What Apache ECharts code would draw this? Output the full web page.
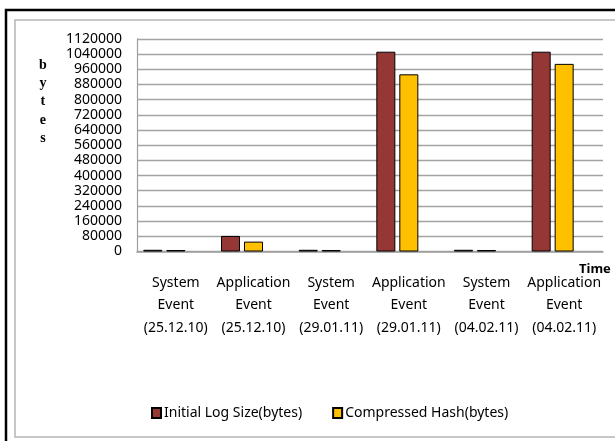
<!DOCTYPE html>
<html style="height: 100%">
<head>
    <meta charset="utf-8">
    <script src="https://cdn.jsdelivr.net/npm/echarts@6.0.0/dist/echarts.min.js"></script>
</head>
<body style="height: 100%; margin: 0; background: #fff">
    <div id="container" style="width: 615px; height: 441px"></div>
    <script type="text/javascript">
        var myChart = echarts.init(document.getElementById('container'));

        // colours
        const logColor = '#953735', hashColor = '#ffc000';
        const fontName = 'Noto Sans';

        // data
        var categories = [
            'System\nEvent\n(25.12.10)', 'Application\nEvent\n(25.12.10)',
            'System\nEvent\n(29.01.11)', 'Application\nEvent\n(29.01.11)',
            'System\nEvent\n(04.02.11)', 'Application\nEvent\n(04.02.11)'
        ];
        var initialLogSize = [9000, 82000, 9000, 1052000, 9000, 1052000];
        var compressedHash = [8000, 52000, 8000, 933000, 8000, 988000];
        var seriesNames = ['Initial Log Size(bytes)', 'Compressed Hash(bytes)'];

        option = {
            animation: false,
            graphic: [
                // outer frame and inner chart border
                { type: 'rect', shape: { x: 6, y: 10, width: 640, height: 460 },
                  style: { fill: 'none', stroke: '#000', lineWidth: 2.5 }, z: -1 },
                { type: 'rect', shape: { x: 15, y: 20, width: 640, height: 417 },
                  style: { fill: 'none', stroke: '#b5b5b5', lineWidth: 1.5 }, z: -1 },
                // vertical axis title
                { type: 'text', left: 39, top: 56,
                  style: { text: 'b\ny\nt\ne\ns', font: 'bold 14px "Liberation Serif"',
                           lineHeight: 18.3, textAlign: 'center', fill: '#000' } },
                // horizontal axis title
                { type: 'text', left: 579, top: 263,
                  style: { text: 'Time', font: 'bold 13px "Noto Sans"', fill: '#000' } }
            ],
            legend: {
                data: seriesNames,
                left: 146, top: 401,
                itemWidth: 9, itemHeight: 10, itemGap: 30,
                icon: 'rect',
                textStyle: { fontFamily: fontName, fontSize: 14, color: '#000', padding: [0, 0, 0, -2] }
            },
            grid: { left: 137, right: 12, top: 38.8, bottom: 189.5, containLabel: false, outerBoundsMode: 'none' },
            xAxis: {
                type: 'category',
                data: categories,
                axisLine: { lineStyle: { color: '#9e9e9e', width: 1.5 } },
                axisTick: { show: false },
                axisLabel: { fontFamily: fontName, fontSize: 14, color: '#000', lineHeight: 22.5,
                             margin: 20, interval: 0 }
            },
            yAxis: {
                type: 'value',
                min: 0, max: 1120000, interval: 80000,
                axisLine: { show: true, lineStyle: { color: '#9e9e9e', width: 1.2 } },
                axisTick: { show: false },
                splitLine: { lineStyle: { color: '#a3a3a3', width: 1.3 } },
                axisLabel: { fontFamily: fontName, fontSize: 14, color: '#000', margin: 15,
                             formatter: function (v) { return String(v); } }
            },
            series: [
                {
                    name: seriesNames[0], type: 'bar',
                    barWidth: 19, barGap: '21%',
                    itemStyle: { color: logColor, borderColor: '#000', borderWidth: 1 },
                    data: initialLogSize
                },
                {
                    name: seriesNames[1], type: 'bar',
                    barWidth: 19, barGap: '21%',
                    itemStyle: { color: hashColor, borderColor: '#000', borderWidth: 1 },
                    data: compressedHash
                },
                {
                    // empty slot that keeps the clusters left of the tick centre
                    name: 'blank', type: 'bar',
                    barWidth: 19, barGap: '21%',
                    data: []
                }
            ]
        };

        myChart.setOption(option);
        window.addEventListener('resize', function() { myChart.resize(); });
    </script>
</body>
</html>
